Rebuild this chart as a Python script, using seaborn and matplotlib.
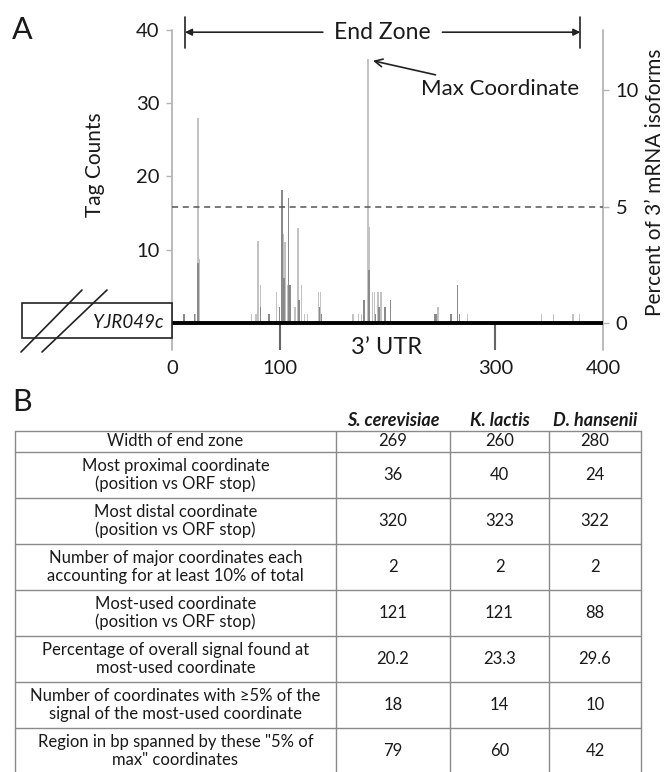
import matplotlib
matplotlib.use("Agg")
import matplotlib.pyplot as plt
import matplotlib.patches as mpatches
import numpy as np
import seaborn as sns

# ---------------- data ----------------
light_pos = [22, 24, 25, 74, 78, 80, 82, 90, 97, 103, 105, 107, 110, 114, 117, 120, 123, 126,
             136, 138, 168, 173, 176, 182, 183, 186, 188, 191, 194, 247, 274, 343, 354, 372, 378]
light_cnt = [1.2, 28, 8.7, 1.2, 1.2, 11.2, 5.2, 1.2, 4.3, 12.2, 11.1, 5.2, 5.2, 2.2, 13.0, 5.2, 1.2, 1.2,
             4.3, 4.3, 1.2, 1.2, 1.2, 36, 13.1, 4.3, 4.3, 4.3, 4.3, 2.2, 1.2, 1.2, 1.2, 1.2, 1.2]
dark_pos = [11, 21, 24, 82, 90, 100, 102, 104, 108, 109, 110, 118, 137, 139, 178, 183, 189, 192,
            197, 198, 203, 244, 245, 259, 265, 267]
dark_cnt = [1.2, 1.2, 8.2, 2.2, 1.2, 2.2, 18.1, 6.1, 17.1, 5.2, 5.2, 3.1, 2.2, 1.2, 3.1, 7.2, 1.2, 2.2,
            2.2, 2.2, 3.1, 1.2, 1.2, 1.2, 5.2, 1.2]

count_ticks = [10, 20, 30, 40]
pct_ticks = [0, 5, 10]
pct_threshold = 5
pct_max = 12.58          # right axis top (percent) corresponding to 40 counts
x_ticks = [0, 100, 300, 400]
x_ticklabels = ["0", "100", "300", "400"]
end_zone = [12, 379]
max_coord = 182
max_count = 36

species = ["S. cerevisiae", "K. lactis", "D. hansenii"]
row_labels = ["Width of end zone",
              "Most proximal coordinate\n(position vs ORF stop)",
              "Most distal coordinate\n(position vs ORF stop)",
              "Number of major coordinates each\naccounting for at least 10% of total",
              "Most-used coordinate\n(position vs ORF stop)",
              "Percentage of overall signal found at\nmost-used coordinate",
              "Number of coordinates with \u22655% of the\nsignal of the most-used coordinate",
              "Region in bp spanned by these \"5% of\nmax\" coordinates"]
s_cer = ["269", "36", "320", "2", "121", "20.2", "18", "79"]
k_lac = ["260", "40", "323", "2", "121", "23.3", "14", "60"]
d_han = ["280", "24", "322", "2", "88", "29.6", "10", "42"]

# ---------------- style ----------------
sns.set_theme(style="white")
plt.rcParams["font.family"] = ["Lato", "DejaVu Sans"]
TXT = "#1a1a1a"

W, H = 666, 772
fig = plt.figure(figsize=(W / 100, H / 100), dpi=100)

def fx(px):
    return px / W

def fy(py):
    return 1 - py / H

# ---------------- panel A ----------------
ax = fig.add_axes([fx(172), fy(323), (603 - 172) / W, (323 - 30) / H])

def bar_width(pos):
    d = np.min(np.diff(np.unique(pos)))
    return 1.35 / d

sns.barplot(x=light_pos, y=light_cnt, native_scale=True, color="#c2c2c2", saturation=1,
            width=bar_width(light_pos), errorbar=None, linewidth=0, ax=ax)
sns.barplot(x=dark_pos, y=dark_cnt, native_scale=True, color="#8a8a8a", saturation=1,
            width=bar_width(dark_pos), errorbar=None, linewidth=0, ax=ax)

ax.set_xlim(0, 400)
ax.set_ylim(0, 40)
for s in ax.spines.values():
    s.set_visible(False)
ax.grid(False)

low = -3.7
ax.plot([0, 0], [low, 40], color="#b5b5b5", lw=1.3, clip_on=False, zorder=3)
ax.plot([400, 400], [low, 40], color="#b5b5b5", lw=1.3, clip_on=False, zorder=3)
ax.vlines([100, 300], low, 0, color="#666666", lw=1.5, clip_on=False, zorder=3)
ax.plot([0, 400], [0, 0], color="black", lw=2.8, clip_on=False, zorder=5, solid_capstyle="butt")

ax.set_xticks(x_ticks, x_ticklabels)
ax.tick_params(axis="x", bottom=True, length=0, pad=27, labelsize=14.5, labelcolor=TXT)
ax.set_yticks(count_ticks)
ax.tick_params(axis="y", left=True, length=4, width=1, color="#b5b5b5", pad=5,
               labelsize=14.5, labelcolor=TXT)
ax.set_xlabel("")
ax.set_ylabel("Tag Counts", fontsize=15, color=TXT)
ax.yaxis.set_label_coords(-0.155, 0.54)

ax2 = ax.twinx()
ax2.set_ylim(0, pct_max)
for s in ax2.spines.values():
    s.set_visible(False)
ax2.grid(False)
ax2.set_yticks(pct_ticks)
ax2.tick_params(axis="y", right=True, length=4, width=1, color="#b5b5b5", pad=5,
                labelsize=14.5, labelcolor=TXT)
ax2.axhline(pct_threshold, color="#555555", lw=1.1, ls=(0, (4, 3)), zorder=1)
ax2.set_ylabel("Percent of 3\u2019 mRNA isoforms", fontsize=15, color=TXT, rotation=90)
ax2.yaxis.set_label_coords(1.097, 0.48)

# End zone annotation
ez_y = 39.7
ax.text(sum(end_zone) / 2, ez_y, "End Zone", ha="center", va="center", fontsize=16.5, color=TXT,
        clip_on=False, zorder=6)
ax.annotate("", xy=(end_zone[0], ez_y), xytext=(140, ez_y),
            arrowprops=dict(arrowstyle="-|>", color="#222222", lw=1.2, mutation_scale=10,
                            shrinkA=0, shrinkB=0), annotation_clip=False)
ax.annotate("", xy=(end_zone[1], ez_y), xytext=(251, ez_y),
            arrowprops=dict(arrowstyle="-|>", color="#222222", lw=1.2, mutation_scale=10,
                            shrinkA=0, shrinkB=0), annotation_clip=False)
for xe in end_zone:
    ax.plot([xe, xe], [37.5, 41.8], color="#222222", lw=1.2, clip_on=False)

# Max coordinate annotation
ax.annotate("Max Coordinate", xy=(max_coord + 4.5, max_count - 0.2), xytext=(231, 31.9),
            ha="left", va="center", fontsize=16, color=TXT,
            arrowprops=dict(arrowstyle="->", color="#222222", lw=1.2, shrinkA=4, shrinkB=0,
                            mutation_scale=14),
            annotation_clip=False)

# 3' UTR label
ax.text(199.5, -3.3, "3\u2019 UTR", ha="center", va="center", fontsize=17, color=TXT,
        clip_on=False, zorder=6,
        bbox=dict(facecolor="white", edgecolor="none", pad=1))

# gene box + break marks (figure pixel coords)
ov = fig.add_axes([0, 0, 1, 1], facecolor="none")
ov.set_xlim(0, W)
ov.set_ylim(H, 0)
ov.axis("off")
ov.add_patch(mpatches.Rectangle((22, 303), 150, 35, facecolor="white", edgecolor="#222222", lw=1.2))
ov.plot([21, 82], [352, 290], color="#222222", lw=1.2)
ov.plot([42, 107], [352, 290], color="#222222", lw=1.2)
ov.text(164, 322, "YJR049c", ha="right", va="center", fontsize=13.5, style="italic", color=TXT)

ov.text(12, 30, "A", ha="left", va="center", fontsize=22, color=TXT)
ov.text(12, 402, "B", ha="left", va="center", fontsize=22, color=TXT)

# ---------------- panel B (table) ----------------
col_edges = [15, 336, 450, 549, 641]
row_edges = [431, 452, 498, 544, 590, 636, 682, 728, 774]
lc = "#8a8a8a"
for xe in col_edges:
    ov.plot([xe, xe], [row_edges[0], row_edges[-1]], color=lc, lw=1.0)
for ye in row_edges:
    ov.plot([col_edges[0], col_edges[-1]], [ye, ye], color=lc, lw=1.0)

for j, sp in enumerate(species):
    cx = (col_edges[j + 1] + col_edges[j + 2]) / 2
    ov.text(cx, 420, sp, ha="center", va="center", fontsize=13, style="italic",
            weight="bold", color=TXT)

cols = [s_cer, k_lac, d_han]
for i, lab in enumerate(row_labels):
    cy = (row_edges[i] + row_edges[i + 1]) / 2
    ov.text((col_edges[0] + col_edges[1]) / 2, cy, lab, ha="center", va="center",
            fontsize=12, color=TXT, linespacing=1.15)
    for j, col in enumerate(cols):
        cx = (col_edges[j + 1] + col_edges[j + 2]) / 2
        ov.text(cx, cy, col[i], ha="center", va="center", fontsize=12, color=TXT)

fig.savefig("out.png", dpi=100)
